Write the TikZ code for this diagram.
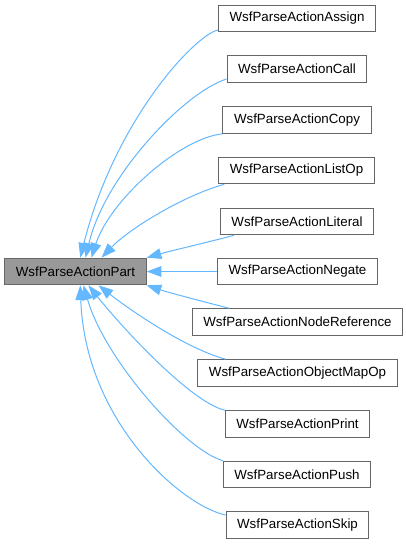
\documentclass[tikz,border=0pt]{standalone}
\usepackage{fontspec}
\setmainfont{Liberation Sans}
\usetikzlibrary{arrows.meta}
\definecolor{edgeblue}{HTML}{63B8FF}
\definecolor{boxgrey}{HTML}{666666}
\definecolor{mainfill}{HTML}{999999}
\begin{document}
\begin{tikzpicture}[x=0.75pt,y=-0.75pt,
  every node/.style={font=\fontsize{10pt}{12pt}\selectfont},
  cls/.style={draw=boxgrey,fill=white,line width=0.75pt,inner xsep=8.3pt,inner ysep=0pt,minimum height=20pt,text=black},
  mainbox/.style={cls,fill=mainfill},
  edge/.style={draw=edgeblue,line width=0.75pt,{Triangle[length=11pt,width=8pt]}-}
]
\useasboundingbox (0,0) rectangle (406,544);
\fill[white] (0,0) rectangle (406,544);

\node[mainbox] (main) at (75.5,271.5) {WsfParseActionPart};

\node[cls] (assign)  at (297,18.5)   {WsfParseActionAssign};
\node[cls] (call)    at (297,69)     {WsfParseActionCall};
\node[cls] (copy)    at (297,120)    {WsfParseActionCopy};
\node[cls] (listop)  at (296.5,170.5){WsfParseActionListOp};
\node[cls] (literal) at (297,221.5)  {WsfParseActionLiteral};
\node[cls] (negate)  at (297.5,271.5){WsfParseActionNegate};
\node[cls] (noderef) at (297.5,322)  {WsfParseActionNodeReference};
\node[cls] (objmap)  at (297.5,373)  {WsfParseActionObjectMapOp};
\node[cls] (print)   at (297.5,424)  {WsfParseActionPrint};
\node[cls] (push)    at (297,474.5)  {WsfParseActionPush};
\node[cls] (skip)    at (297.5,525)  {WsfParseActionSkip};

\draw[edge] (main.71.6) .. controls (115,120) and (195,35) .. ([yshift=-8.6pt]assign.west);
\draw[edge] (main.54.9) .. controls (105,175) and (185,92) .. ([yshift=-7.5pt]call.west);
\draw[edge] (main.41.1) .. controls (110,200) and (180,138) .. (copy.south west);
\draw[edge] (main.28.9) .. controls (130,228) and (185,195) .. ([xshift=4.5pt]listop.south west);
\draw[edge] (main.11.8) .. controls (170,251) and (205,243) .. ([xshift=10.5pt]literal.south west);
\draw[edge] (main.east) -- (negate.west);
\draw[edge] (main.-11.8) .. controls (170,293) and (205,302) .. ([xshift=27.75pt]noderef.north west);
\draw[edge] (main.-31) .. controls (130,310) and (185,348) .. ([xshift=21pt]objmap.north west);
\draw[edge] (main.-47.2) .. controls (120,325) and (190,402) .. (print.north west);
\draw[edge] (main.-60.9) .. controls (105,360) and (185,450) .. (push.north west);
\draw[edge] (main.-71.6) .. controls (85,420) and (180,505) .. ([yshift=7.5pt]skip.west);
\end{tikzpicture}
\end{document}
